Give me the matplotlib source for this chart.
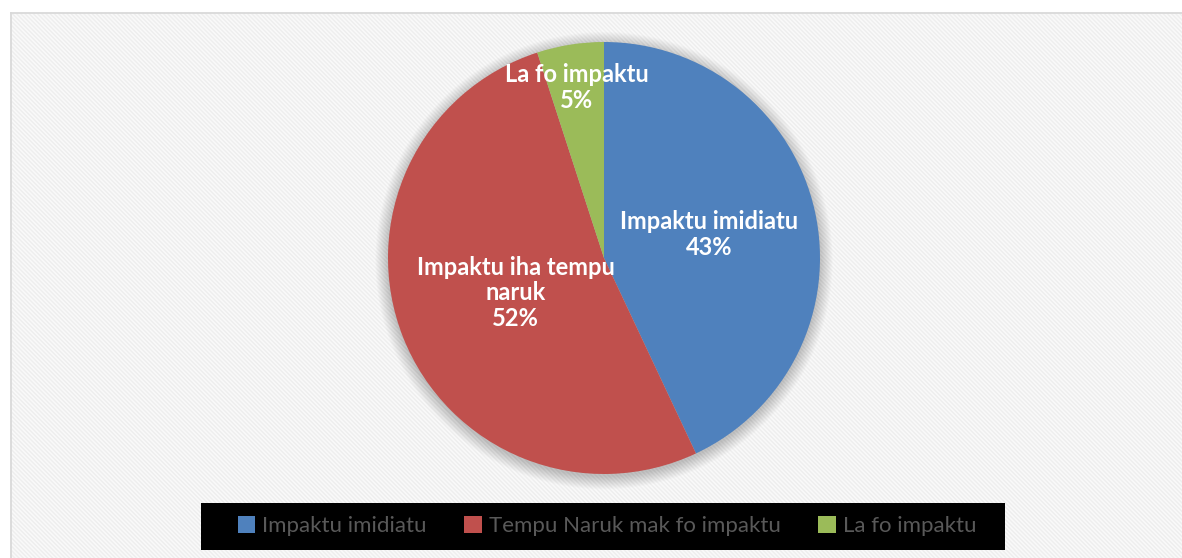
import numpy as np
import matplotlib
matplotlib.use("Agg")
import matplotlib.pyplot as plt
from matplotlib.patches import Rectangle, Circle, Patch

labels = ["Impaktu imidiatu", "Impaktu iha tempu\nnaruk", "La fo impaktu"]
legend_labels = ["Impaktu imidiatu", "Tempu Naruk mak fo impaktu", "La fo impaktu"]
values = [43, 52, 5]
colors = ["#4f81bd", "#c0504d", "#9bbb59"]
label_dist = [0.5, 0.44, 0.8]

W, H = 1182, 558
fig = plt.figure(figsize=(W / 100, H / 100), dpi=100)
fig.patch.set_facecolor("white")

# background with fine diagonal stripes
bg = fig.add_axes([0, 0, 1, 1])
bg.set_xlim(0, W)
bg.set_ylim(H, 0)
bg.axis("off")
bg.add_patch(Rectangle((11, 13), W, H, facecolor="#fafafa", edgecolor="none"))
for x0 in np.arange(11 - H, W, 4.2):
    bg.plot([x0, x0 + H], [13, 13 + H], color="#eeeeee", lw=1.1, solid_capstyle="butt")
bg.add_patch(Rectangle((0, 0), W, 12.5, facecolor="white", edgecolor="none", zorder=3))
bg.add_patch(Rectangle((0, 0), 10.5, H, facecolor="white", edgecolor="none", zorder=3))
bg.plot([11, W], [13, 13], color="#d9d9d9", lw=1.3, zorder=4)
bg.plot([11, 11], [13, H], color="#d9d9d9", lw=1.3, zorder=4)

# legend box
bg.add_patch(Rectangle((201, 503), 804, 47, facecolor="black", edgecolor="none", zorder=5))

# pie
cx, cy, R = 604, 258, 216
ax = fig.add_axes([(cx - R) / W, (H - cy - R) / H, 2 * R / W, 2 * R / H])
ax.set_xlim(-1, 1)
ax.set_ylim(-1, 1)
ax.axis("off")
for k in range(14):
    ax.add_patch(Circle((0.0, -0.012), 1.0 + k * 0.0045, facecolor="black",
                        alpha=0.016, edgecolor="none", zorder=0, clip_on=False))
wedges, _ = ax.pie(values, colors=colors, startangle=90, counterclock=False,
                   radius=1.0, wedgeprops=dict(edgecolor="none", linewidth=0))
ax.set_xlim(-1, 1)
ax.set_ylim(-1, 1)
total = sum(values)
font = ["Lato", "DejaVu Sans"]
for w, lab, v, d in zip(wedges, labels, values, label_dist):
    ang = np.deg2rad((w.theta1 + w.theta2) / 2)
    ax.text(d * np.cos(ang), d * np.sin(ang), f"{lab}\n{round(100 * v / total)}%",
            ha="center", va="center", color="white", fontsize=17, fontweight="bold",
            family=font, linespacing=1.15, zorder=10)

handles = [Patch(facecolor=c, edgecolor="none") for c in colors]
leg = fig.legend(handles, legend_labels, loc="center", bbox_to_anchor=(607 / W, 1 - 526 / H),
                 ncol=3, frameon=False, prop=dict(family=font, size=16),
                 handlelength=0.8, handleheight=0.8, handletextpad=0.3, columnspacing=1.7,
                 labelcolor="#595959")

fig.savefig("out.png", dpi=100)
